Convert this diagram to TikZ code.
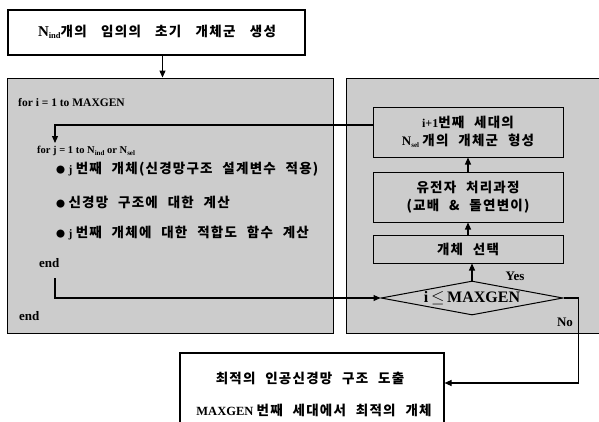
\documentclass[tikz,border=0pt]{standalone}
\usepackage{fontspec}
\setmainfont{Liberation Serif}
\newfontfamily\kr{Noto Sans CJK KR}[LetterSpace=9,WordSpace=2.3]
\newfontfamily\krw{Noto Sans CJK KR}[LetterSpace=10,WordSpace=3.2]
\usetikzlibrary{arrows.meta,shapes.geometric,calc}
\newcommand\lowsub[1]{\raisebox{-0.35ex}{\fontsize{7}{7}\selectfont #1}}
\newcommand\bul{{\fontsize{9}{9}\selectfont\kr ●}}
\definecolor{panelgray}{gray}{0.80}
\tikzset{
  panel/.style={draw=black,line width=0.9pt,fill=panelgray,inner sep=0pt},
  inbox/.style={draw=black,line width=1pt,fill=panelgray,inner sep=0pt,align=center,
    font=\fontsize{13.5}{15}\selectfont\bfseries},
  wbox/.style={draw=black,line width=1.2pt,fill=white,inner sep=0pt},
  arr/.style={line width=1.1pt,-{Triangle[length=7pt,width=6pt]}},
  krtxt/.style={inner sep=0pt,anchor=west,font=\fontsize{13.5}{15}\selectfont\bfseries},
  lattxt/.style={inner sep=0pt,anchor=west,font=\fontsize{11.5}{13}\selectfont\bfseries},
  ctxt/.style={inner sep=0pt,font=\fontsize{13.5}{15}\selectfont\bfseries,align=center},
  lbl/.style={inner sep=0pt,font=\fontsize{13}{15}\selectfont\bfseries},
}
\begin{document}
\begin{tikzpicture}[x=1pt,y=-1pt]
\useasboundingbox (0,0) rectangle (599,421);
\clip (0,0) rectangle (599,421);
% boxes
\node[wbox,minimum width=297pt,minimum height=45pt] (top) at (156.5,32.5) {};
\node[ctxt] (topT) at (157,32) {{\fontsize{15}{15}\selectfont N}\raisebox{-0.4ex}{\fontsize{8.5}{8.5}\selectfont ind}{\krw 개의 임의의 초기 개체군 생성}};
\node[panel,minimum width=326pt,minimum height=255pt] (lp) at (170,205.5) {};
\node[panel,minimum width=270pt,minimum height=255pt] (rp) at (481,205.5) {};
\node[inbox,minimum width=190pt,minimum height=50pt] (b1) at (468,132)
  {{\fontsize{12}{12}\selectfont i+1}{\kr 번째 세대의}\\[3pt]{\fontsize{13}{13}\selectfont N}\lowsub{sel} {\kr 개의 개체군 형성}};
\node[inbox,minimum width=190pt,minimum height=50pt] (b2) at (468,197)
  {{\kr 유전자 처리과정}\\[3pt]{\kr (교배 \& 돌연변이)}};
\node[inbox,minimum width=190pt,minimum height=28pt] (b3) at (468,249) {{\kr 개체 선택}};
\node[draw=black,line width=1pt,fill=panelgray,shape=diamond,aspect=5,inner sep=0pt,
  minimum width=182pt,minimum height=34pt,font=\fontsize{16}{18}\selectfont\bfseries] (dia) at (472,298) {i\,$\le$\,MAXGEN};
\node[draw=black,line width=1.1pt,fill=white,minimum width=264pt,minimum height=80pt,inner sep=0pt] (bot) at (312,393) {};
\node[ctxt] (botT1) at (310,378) {\kr 최적의 인공신경망 구조 도출};
\node[ctxt] (botT2) at (314,410) {{\fontsize{12.5}{12}\selectfont MAXGEN} {\kr 번째 세대에서 최적의 개체}};
% left panel text
\node[lattxt] (fi) at (18,103) {for i = 1 to MAXGEN};
\node[lattxt,font=\fontsize{10.5}{12}\selectfont\bfseries] (fj) at (37,151) {for j = 1 to N\lowsub{ind} or N\lowsub{sel}};
\node[krtxt] (l1) at (56,169) {\bul\ {\fontsize{11.5}{11.5}\selectfont j} {\kr 번째 개체(신경망구조 설계변수 적용)}};
\node[krtxt] (l2) at (56,202) {\bul\ {\kr 신경망 구조에 대한 계산}};
\node[krtxt] (l3) at (56,233) {\bul\ {\fontsize{11.5}{11.5}\selectfont j} {\kr 번째 개체에 대한 적합도 함수 계산}};
\node[lbl,anchor=west] (e2) at (39,263) {end};
\node[lbl,anchor=west] (e1) at (19,316) {end};
\node[lbl] (yes) at (515,276) {Yes};
\node[lbl] (no) at (565,322) {No};
% connectors
\coordinate (jin) at (55,143);
\coordinate (eout) at (55,278);
\draw[arr] ([xshift=6pt]top.south) -- ([xshift=6pt]top.south |- lp.north);
\draw[arr] ([yshift=7pt]b1.west) -| (jin);
\draw[arr] (eout) |- (dia.west);
\draw[arr] (dia.north) -- (dia.north |- b3.south);
\draw[arr] (b3.north) -- (b2.south);
\draw[arr] (b2.north) -- (b1.south);
\draw[arr] (dia.east) -- ([xshift=15pt]dia.east) |- ([yshift=10pt]bot.east);
\end{tikzpicture}
\end{document}
